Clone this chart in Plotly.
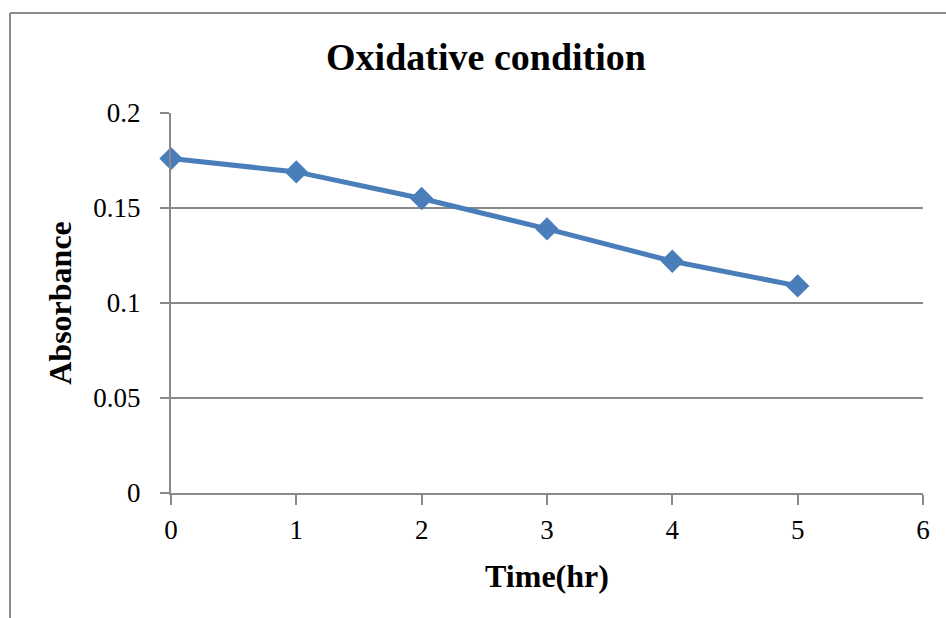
import plotly.graph_objects as go

# Absorbance over time under oxidative condition
time_hr = [0, 1, 2, 3, 4, 5]
absorbance = [0.176, 0.169, 0.155, 0.139, 0.122, 0.109]

x_ticks = [0, 1, 2, 3, 4, 5, 6]
y_ticks = [0, 0.05, 0.1, 0.15, 0.2]
y_tick_text = ["0", "0.05", "0.1", "0.15", "0.2"]

serif = "Liberation Serif, Times New Roman, serif"
grid_col = "#898989"
line_col = "#4a7ebb"

fig = go.Figure(
    go.Scatter(
        x=time_hr,
        y=absorbance,
        mode="lines+markers",
        line=dict(color=line_col, width=5),
        marker=dict(symbol="diamond", size=18, color=line_col),
        cliponaxis=False,
        showlegend=False,
    )
)

fig.update_layout(
    width=946,
    height=618,
    margin=dict(l=171, r=23, t=113, b=125),
    paper_bgcolor="white",
    plot_bgcolor="white",
    font=dict(family=serif, color="black", size=27),
    title=dict(
        text="<b>Oxidative condition</b>",
        font=dict(family=serif, size=38, color="black"),
        x=486 / 946,
        xanchor="center",
        xref="container",
        y=1 - 57 / 618,
        yref="container",
        yanchor="middle",
    ),
    shapes=[
        dict(type="line", xref="paper", yref="paper",
             x0=-161 / 752, x1=1.2, y0=1 + 100 / 380, y1=1 + 100 / 380,
             line=dict(color="#8c8c8c", width=2)),
        dict(type="line", xref="paper", yref="paper",
             x0=-161 / 752, x1=-161 / 752, y0=1 + 100 / 380, y1=-0.5,
             line=dict(color="#8c8c8c", width=2)),
    ],
)

fig.update_xaxes(
    range=[0, 6],
    tickvals=x_ticks,
    ticks="outside",
    ticklen=10,
    tickwidth=2,
    tickcolor=grid_col,
    showline=True,
    linecolor=grid_col,
    linewidth=2,
    showgrid=False,
    zeroline=False,
    ticklabelstandoff=2,
    tickfont=dict(family=serif, size=27),
    title=dict(text="<b>Time(hr)</b>", font=dict(family=serif, size=32), standoff=20),
)

fig.update_yaxes(
    range=[0, 0.2],
    tickvals=y_ticks,
    ticktext=y_tick_text,
    ticks="outside",
    ticklen=9,
    tickwidth=2,
    tickcolor=grid_col,
    showline=True,
    linecolor=grid_col,
    linewidth=2,
    showgrid=True,
    gridcolor=grid_col,
    gridwidth=2,
    zeroline=False,
    ticklabelstandoff=14,
    tickfont=dict(family=serif, size=27),
    title=dict(text="<b>Absorbance</b>", font=dict(family=serif, size=32), standoff=12),
)

fig.write_html("out.html")
